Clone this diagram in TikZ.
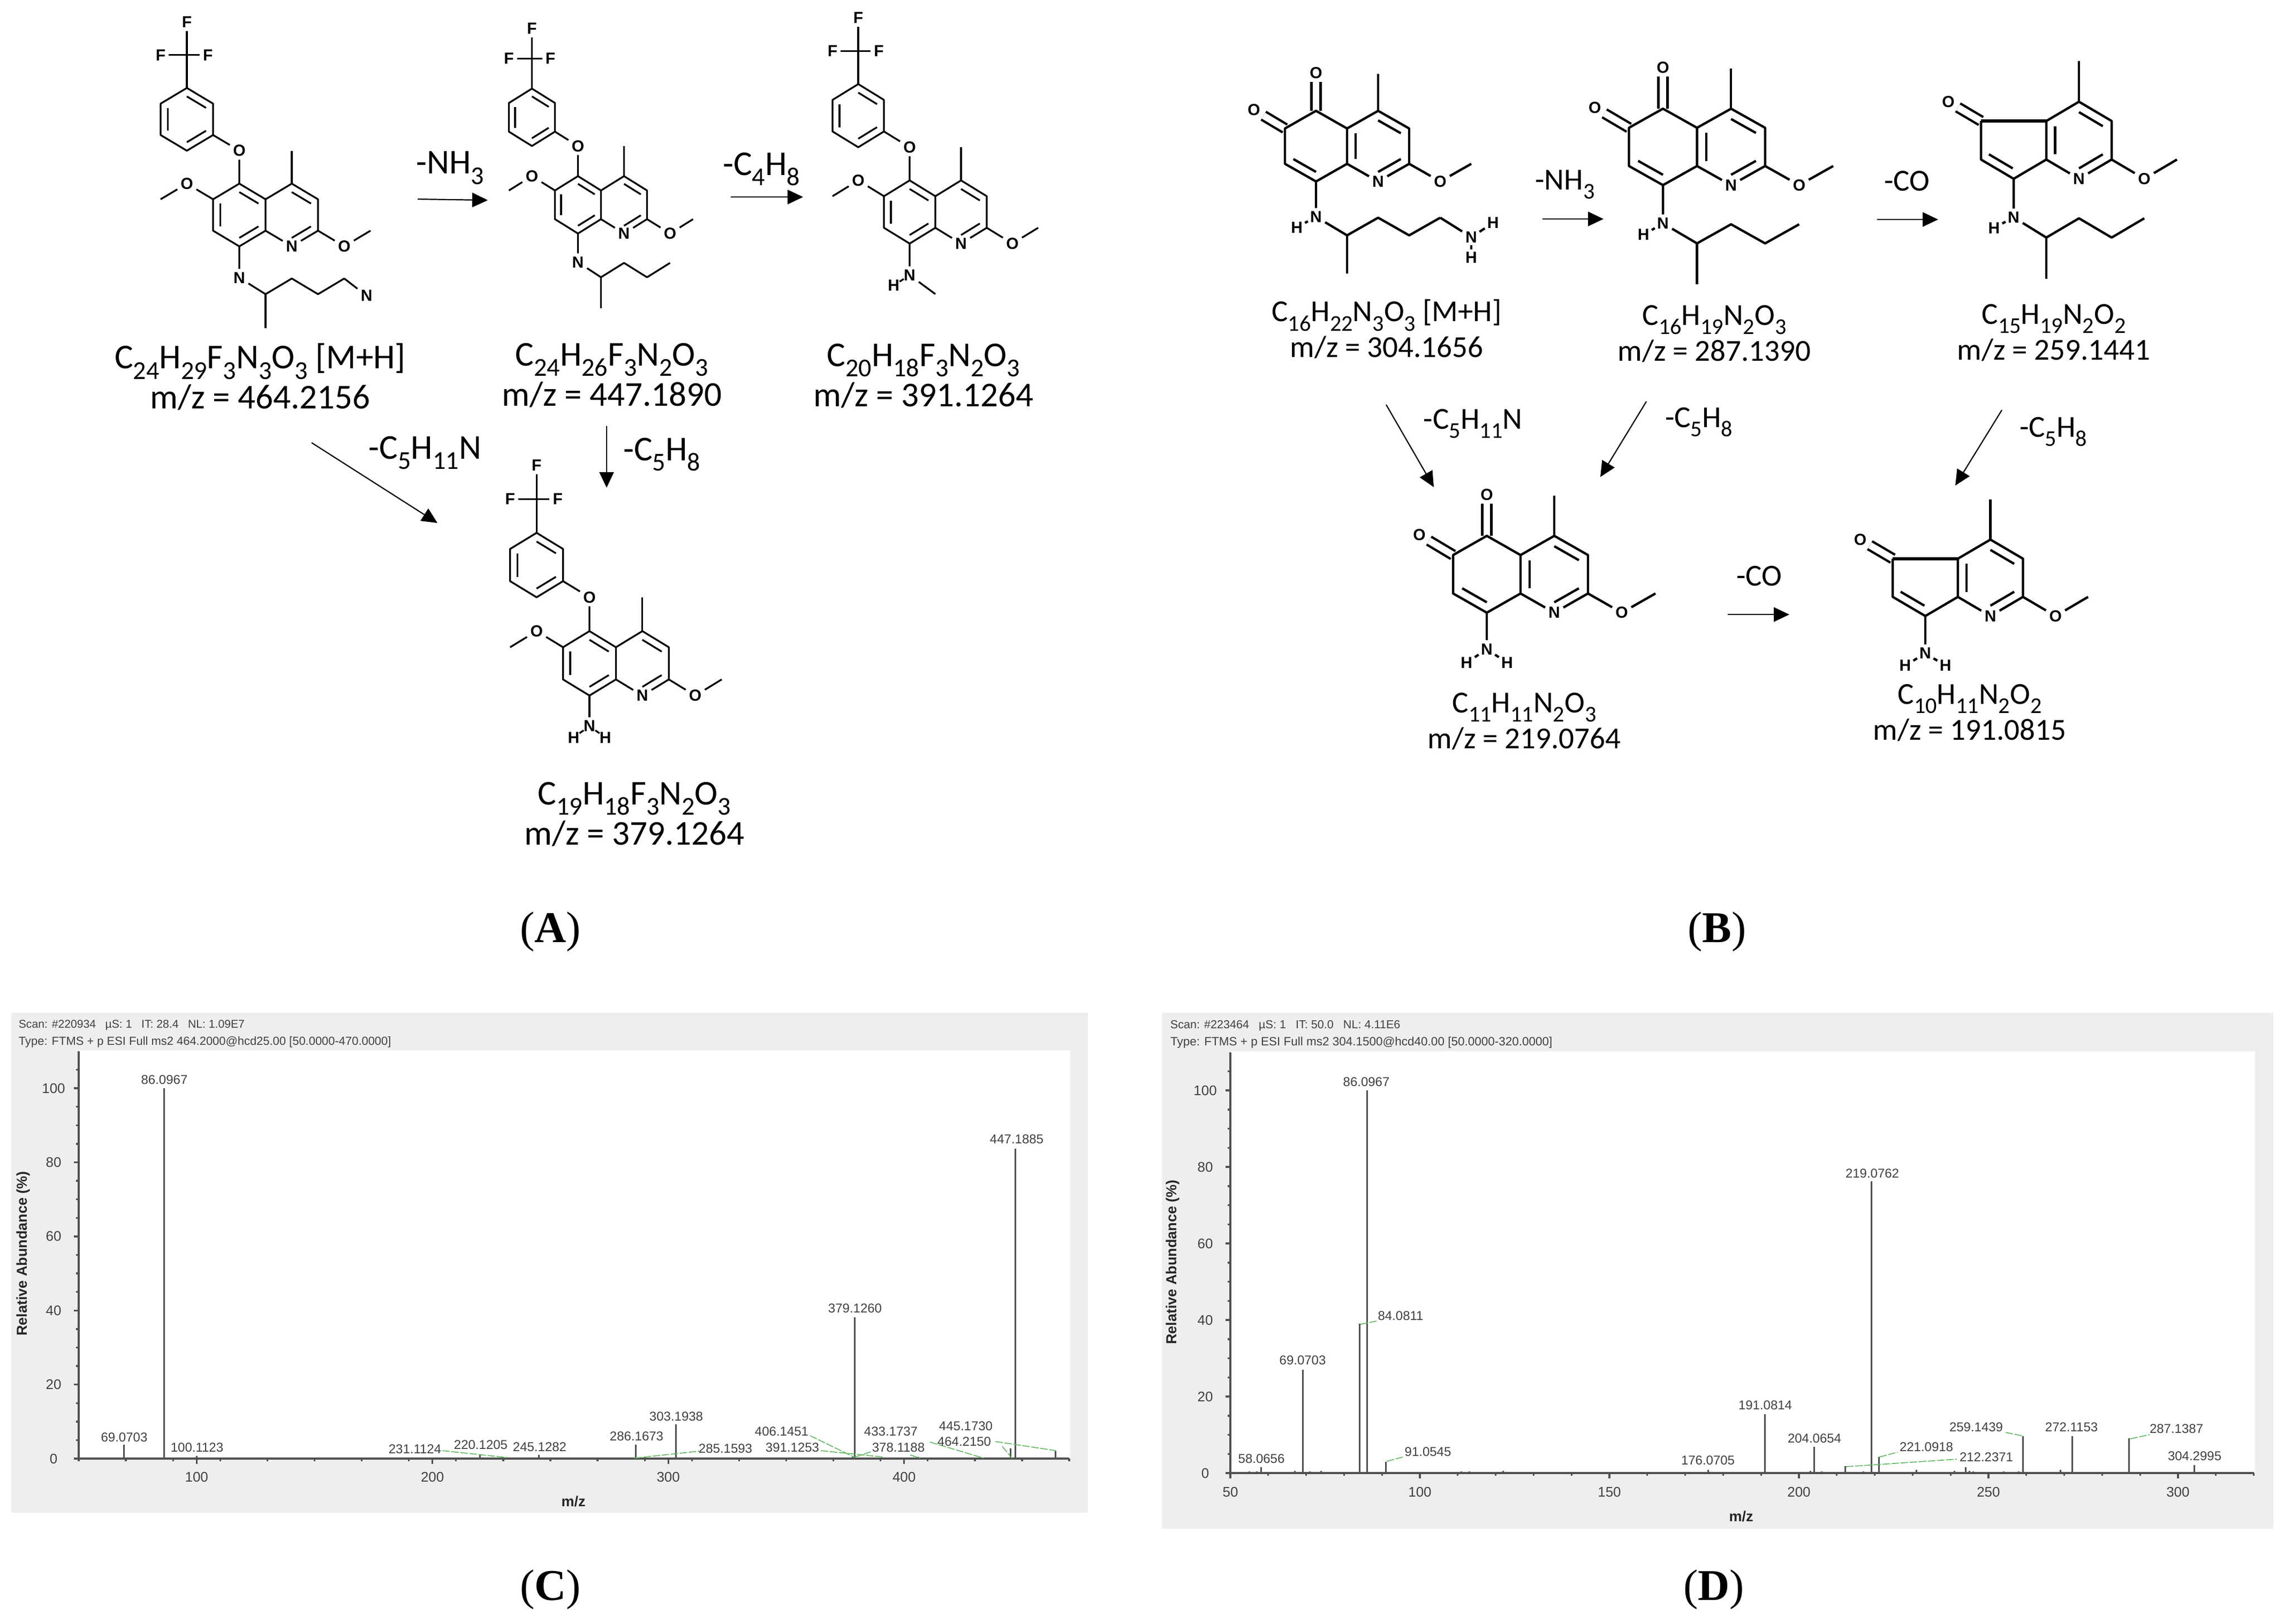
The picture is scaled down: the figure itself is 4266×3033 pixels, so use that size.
\documentclass[tikz,border=0pt]{standalone}
\usepackage{fontspec}
\usepackage{amsmath}
\usepackage{xcolor}
\usetikzlibrary{arrows.meta,calc}
\setmainfont{Carlito}
\newfontfamily\specf{Liberation Sans}
\newfontfamily\capf{Liberation Serif}

\definecolor{panelgray}{HTML}{EEEEEE}
\definecolor{plotline}{HTML}{505050}
\definecolor{plottext}{HTML}{404040}
\definecolor{leadgreen}{HTML}{5CB85C}

\newcommand{\subs}[1]{\raisebox{-.3em}{\scalebox{.74}{#1}}}
\newcommand{\fA}{\fontsize{6.5}{6.4}\selectfont}
\newcommand{\fB}{\fontsize{5.7}{5.5}\selectfont}

\tikzset{
  atom/.style={font=\specf\bfseries\fontsize{3}{3.4}\selectfont,inner sep=.42pt},
  lab/.style={align=center,inner sep=0pt,font=\fA},
  labB/.style={align=center,inner sep=0pt,font=\fB},
  rxn/.style={line width=.22pt,-{Triangle[length=2.9pt,width=2.7pt]}},
  captxt/.style={inner sep=0pt,font=\capf\fontsize{8.2}{9}\selectfont},
  hdr/.style={anchor=west,inner sep=0pt,text=plottext,font=\specf\fontsize{2.25}{2.6}\selectfont},
  peaklab/.style={inner sep=0pt,text=plottext,font=\specf\fontsize{2.4}{2.8}\selectfont},
  ticklab/.style={inner sep=0pt,text=plottext,font=\specf\fontsize{2.6}{3}\selectfont},
  axlab/.style={inner sep=0pt,text=black!85,font=\specf\bfseries\fontsize{2.7}{3}\selectfont},
  axline/.style={line width=.33pt,draw=plotline},
  peakline/.style={line width=.3pt,draw=plotline},
  lead/.style={line width=.16pt,draw=leadgreen,dash pattern=on 1.4pt off .3pt}
}

\newlength{\bondw}
\tikzset{
  bond/.style={line width=\bondw,line join=round},
  nhbond/.style={line width=\bondw,shorten <=-.2pt,shorten >=-.2pt}
}

% second line of a double bond, pulled towards the ring centre
\newcommand{\dbl}[3]{\draw[bond] ($(#1)!.27!(#3)$) -- ($(#2)!.27!(#3)$);}

% pyridine ring with methyl and methoxy, plus the corners of the other ring
\newcommand{\pyrring}{
  \coordinate (c4) at (2,0);
  \coordinate (c3) at (3,1);
  \coordinate (c2) at (3,3);
  \coordinate (c4a) at (1,1);
  \coordinate (c8a) at (1,3);
  \coordinate (c8) at (0,4);
  \coordinate (c7) at (-1,3);
  \coordinate (c6) at (-1,1);
  \coordinate (nc) at (2,4);
  \coordinate (rb) at (2,2);
  \coordinate (me4) at (2,-2.1);
  \coordinate (me2) at (5,3);
  \node[atom] (n1) at (2,4) {N};
  \node[atom] (o2) at (4,4) {O};
  \draw[bond] (c8a) -- (c4a) -- (c4) -- (c3) -- (c2) -- (n1) -- (c8a) -- (c8);
  \draw[bond] (c4) -- (me4);
  \draw[bond] (c2) -- (o2) -- (me2);
  \dbl{c4}{c3}{rb}
  \dbl{c2}{nc}{rb}
}

% aryl ether ring system of panel A
\newcommand{\arylpart}{
  \coordinate (c5) at (0,0);
  \coordinate (ra) at (0,2);
  \coordinate (rp) at (-2,-4.1);
  \coordinate (p1) at (-1,-3.1);
  \coordinate (p2) at (-1,-5.1);
  \coordinate (p3) at (-2,-6.1);
  \coordinate (p4) at (-3,-5.1);
  \coordinate (p5) at (-3,-3.1);
  \coordinate (p6) at (-2,-2.1);
  \coordinate (cf) at (-2,-8.2);
  \coordinate (me6) at (-3,1);
  \node[atom] (o5) at (0,-2.1) {O};
  \node[atom] (o6) at (-2,0) {O};
  \node[atom] (f1) at (-2,-10.3) {F};
  \node[atom] (f2) at (-3,-8.2) {F};
  \node[atom] (f3) at (-1.2,-8.2) {F};
  \draw[bond] (c8) -- (c7) -- (c6) -- (c5) -- (c4a);
  \draw[bond] (c5) -- (o5) -- (p1) -- (p2) -- (p3) -- (p4) -- (p5) -- (p6) -- (p1);
  \draw[bond] (c6) -- (o6) -- (me6);
  \draw[bond] (p3) -- (f1);
  \draw[bond] (f2) -- (f3);
  \dbl{c5}{c4a}{ra}
  \dbl{c6}{c7}{ra}
  \dbl{c8}{c8a}{ra}
  \dbl{p6}{p1}{rp}
  \dbl{p2}{p3}{rp}
  \dbl{p4}{p5}{rp}
}

% quinone ring of panel B
\newcommand{\quinonepart}{
  \coordinate (c5) at (0,0);
  \coordinate (ra) at (0,2);
  \node[atom] (o5) at (0,-2.15) {O};
  \node[atom] (o6) at (-2,-.05) {O};
  \draw[line width=\bondw,double,double distance=1.25pt] (c5) -- (o5);
  \draw[line width=\bondw,double,double distance=1.25pt] (c6) -- (o6);
  \draw[bond] (c8) -- (c7) -- (c6) -- (c5) -- (c4a);
  \dbl{c4a}{c8a}{rb}
  \dbl{c7}{c8}{ra}
}

% five membered ring of panel B
\newcommand{\ketonepart}{
  \coordinate (rf) at (-.1,2);
  \node[atom] (o6) at (-2,0) {O};
  \draw[line width=\bondw,double,double distance=1.25pt] (c6) -- (o6);
  \draw[line width=.58pt] (c6) -- (c4a);
  \draw[bond] (c8) -- (c7) -- (c6);
  \dbl{c4a}{c8a}{rb}
  \dbl{c7}{c8}{rf}
}

% N-H side chain, ends at the third carbon after the branch
\newcommand{\sidechain}{
  \coordinate (ch) at (1,7.05);
  \coordinate (me8) at (1,9.2);
  \coordinate (s1) at (2,6.05);
  \coordinate (s2) at (3,7.05);
  \coordinate (s3) at (4,6.05);
  \node[atom] (n8) at (0,6) {N};
  \draw[bond] (c8) -- (n8) -- (ch) -- (s1) -- (s2) -- (s3);
  \draw[bond] (ch) -- (me8);
}

\begin{document}
\begin{tikzpicture}[x=.1pt,y=-.1pt]
\useasboundingbox (0,0) rectangle (4266,3033);

% ------ panel A
\setlength{\bondw}{.33pt}
\begin{scope}[shift={(447,343)},x=4.9pt,y=-2.93pt,name prefix=aa-]
  \pyrring \arylpart \sidechain
  \node[atom] (nt) at (4.85,7.15) {N};
  \draw[bond] (s3) -- (nt);
\end{scope}
\begin{scope}[shift={(1079.5,329)},x=4.3pt,y=-2.68pt,name prefix=ab-]
  \pyrring \arylpart \sidechain
\end{scope}
\begin{scope}[shift={(1699,337)},x=4.8pt,y=-2.95pt,name prefix=ac-]
  \pyrring \arylpart
  \coordinate (me8) at (1,7.2);
  \node[atom] (n8) at (0,6) {N};
  \node[atom] (h8) at (-.62,6.65) {H};
  \draw[bond] (c8) -- (n8) -- (me8);
  \draw[nhbond] (n8) -- (h8);
\end{scope}
\begin{scope}[shift={(1101,1179)},x=4.94pt,y=-3.01pt,name prefix=ad-]
  \pyrring \arylpart
  \node[atom] (n8) at (0,5.9) {N};
  \node[atom] (h8) at (-.6,6.6) {H};
  \node[atom] (h9) at (.6,6.6) {H};
  \draw[bond] (c8) -- (n8);
  \draw[nhbond] (n8) -- (h8);
  \draw[nhbond] (n8) -- (h9);
\end{scope}

% ------ panel B
\setlength{\bondw}{.44pt}
\begin{scope}[shift={(2458,207)},x=5.8pt,y=-3.3pt,name prefix=ba-]
  \pyrring \quinonepart \sidechain
  \node[atom] (nt) at (5,7.15) {N};
  \node[atom] (h8) at (-.62,6.6) {H};
  \node[atom] (h1) at (5.7,6.35) {H};
  \node[atom] (h2) at (5,8.3) {H};
  \draw[bond] (s3) -- (nt);
  \draw[nhbond] (n8) -- (h8);
  \draw[nhbond] (nt) -- (h1);
  \draw[nhbond] (nt) -- (h2);
\end{scope}
\begin{scope}[shift={(3106,203)},x=6.36pt,y=-3.57pt,name prefix=bb-]
  \pyrring \quinonepart \sidechain
  \node[atom] (h8) at (-.57,6.6) {H};
  \draw[nhbond] (n8) -- (h8);
\end{scope}
\begin{scope}[shift={(3761,190)},x=6.1pt,y=-3.6pt,name prefix=bc-]
  \pyrring \ketonepart \sidechain
  \node[atom] (h8) at (-.6,6.55) {H};
  \draw[nhbond] (n8) -- (h8);
\end{scope}
\begin{scope}[shift={(2777,1001)},x=6.3pt,y=-3.59pt,name prefix=bd-]
  \pyrring \quinonepart
  \node[atom] (n8) at (0,5.9) {N};
  \node[atom] (h8) at (-.6,6.6) {H};
  \node[atom] (h9) at (.6,6.6) {H};
  \draw[bond] (c8) -- (n8);
  \draw[nhbond] (n8) -- (h8);
  \draw[nhbond] (n8) -- (h9);
\end{scope}
\begin{scope}[shift={(3596,1008)},x=6.08pt,y=-3.57pt,name prefix=be-]
  \pyrring \ketonepart
  \node[atom] (n8) at (0,5.95) {N};
  \node[atom] (h8) at (-.62,6.6) {H};
  \node[atom] (h9) at (.62,6.6) {H};
  \draw[bond] (c8) -- (n8);
  \draw[nhbond] (n8) -- (h8);
  \draw[nhbond] (n8) -- (h9);
\end{scope}

% formula labels
\node[lab] (laba) at (486,704) {C\subs{24}H\subs{29}F\subs{3}N\subs{3}O\subs{3} [M+H]\\m/z = 464.2156};
\node[lab] (labb) at (1143,701) {C\subs{24}H\subs{26}F\subs{3}N\subs{2}O\subs{3}\\m/z = 447.1890};
\node[lab] (labc) at (1725,702) {C\subs{20}H\subs{18}F\subs{3}N\subs{2}O\subs{3}\\m/z = 391.1264};
\node[lab] (labd) at (1185,1521) {C\subs{19}H\subs{18}F\subs{3}N\subs{2}O\subs{3}\\m/z = 379.1264};
\node[labB] (labe) at (2590,615) {C\subs{16}H\subs{22}N\subs{3}O\subs{3} [M+H]\\m/z = 304.1656};
\node[labB] (labf) at (3202,624) {C\subs{16}H\subs{19}N\subs{2}O\subs{3}\\m/z = 287.1390};
\node[labB] (labg) at (3836,622) {C\subs{15}H\subs{19}N\subs{2}O\subs{2}\\m/z = 259.1441};
\node[labB] (labh) at (2847,1348) {C\subs{11}H\subs{11}N\subs{2}O\subs{3}\\m/z = 219.0764};
\node[labB] (labi) at (3679,1332) {C\subs{10}H\subs{11}N\subs{2}O\subs{2}\\m/z = 191.0815};

% reaction arrows
\coordinate (ar1s) at (780,372);   \coordinate (ar1e) at (911,374);
\coordinate (ar2s) at (1365,368);  \coordinate (ar2e) at (1500,368);
\coordinate (ar3s) at (582,827);   \coordinate (ar3e) at (817,977);
\coordinate (ar4s) at (1133,796);  \coordinate (ar4e) at (1133,911);
\coordinate (br1s) at (2881,409);  \coordinate (br1e) at (2995,409);
\coordinate (br2s) at (3506,410);  \coordinate (br2e) at (3620,410);
\coordinate (br3s) at (2589,756);  \coordinate (br3e) at (2678,910);
\coordinate (br4s) at (3075,750);  \coordinate (br4e) at (2989,891);
\coordinate (br5s) at (3739,766);  \coordinate (br5e) at (3652,907);
\coordinate (br6s) at (3227,1148); \coordinate (br6e) at (3342,1148);
\foreach \nm in {ar1,ar2,ar3,ar4,br1,br2,br3,br4,br5,br6}
  \draw[rxn] (\nm s) -- (\nm e);

\node[lab] (tr1) at (841,314) {-NH\subs{3}};
\node[lab] (tr2) at (1422,316) {-C\subs{4}H\subs{8}};
\node[lab] (tr3) at (794,846) {-C\subs{5}H\subs{11}N};
\node[lab] (tr4) at (1236,849) {-C\subs{5}H\subs{8}};
\node[labB] (tr5) at (2923,345) {-NH\subs{3}};
\node[labB] (tr6) at (3562,338) {-CO};
\node[labB] (tr7) at (2751,792) {-C\subs{5}H\subs{11}N};
\node[labB] (tr8) at (3173,789) {-C\subs{5}H\subs{8}};
\node[labB] (tr9) at (3835,807) {-C\subs{5}H\subs{8}};
\node[labB] (tr10) at (3286,1076) {-CO};

% captions
\node[captxt] (capa) at (1028,1741) {(\textbf{A})};
\node[captxt] (capb) at (3207,1741) {(\textbf{B})};
\node[captxt] (capc) at (1028,2970) {(\textbf{C})};
\node[captxt] (capd) at (3201,2970) {(\textbf{D})};

% ------ spectrum C
\fill[panelgray] (21,1892) rectangle (2032,2826);
\fill[white] (147,1962) rectangle (1999,2725);
\node[hdr,scale=.94] (hca) at (33,1915) {Scan: \#220934\ \ \ µS: 1\ \ \ IT: 28.4\ \ \ NL: 1.09E7};
\node[hdr,scale=.975] (hcb) at (33,1947) {Type: FTMS + p ESI Full ms2 464.2000@hcd25.00 [50.0000-470.0000]};
\begin{scope}[shift={(147,2725)},x=.4405pt,y=.692pt]
  \draw[axline] (0,110) -- (0,0) -- (420,0);
  \foreach \v in {0,5,...,105} \draw[axline] (0,\v) -- ++(-.5pt,0);
  \foreach \v in {0,20,...,100} {
    \draw[axline] (0,\v) -- ++(-.9pt,0);
    \node[ticklab] (cy\v) at ([xshift=-4.7pt]0,\v) {\v};
  }
  \foreach \m in {50,70,...,470} \draw[axline] (\m-50,0) -- ++(0,-.5pt);
  \foreach \m in {100,200,300,400} {
    \draw[axline] (\m-50,0) -- ++(0,-.95pt);
    \node[ticklab] (cx\m) at ([yshift=-3.4pt]\m-50,0) {\m};
  }
  \foreach \m/\h in {69.07/3.7,86.1/100,100.1/.8,220.1/1,245.1/1,286.2/3.7,285.2/.3,303.2/9.2,378.1/.5,379.1/38.2,391.1/.3,406.1/.5,433.2/.3,445.2/2.8,447.2/83.7,464.2/2.1}
    \draw[peakline] (\m-50,0) -- (\m-50,\h);
\end{scope}
\foreach \xa/\ya/\xb/\yb in {826/2710/948/2723,1185/2724/1306/2711,1513/2682/1597/2723,1533/2710/1650/2722,1597/2722/1627/2712,1737/2694/1837/2724,1700/2718/1718/2724,1859/2693/1972/2710,1872/2702/1890/2724}
  \draw[lead] (\xa,\ya) -- (\xb,\yb);
\foreach \lbl/\xc/\yc in {86.0967/307/2017,447.1885/1899/2128,379.1260/1597/2444,303.1938/1263/2646,286.1673/1189/2683,406.1451/1460/2674,433.1737/1664/2674,445.1730/1804/2664,464.2150/1801/2693,391.1253/1480/2704,378.1188/1678/2704,285.1593/1355/2706,245.1282/1008/2703,220.1205/898/2699,231.1124/775/2707,100.1123/368/2704,69.0703/232/2685}
  \node[peaklab] at (\xc,\yc) {\lbl};
\node[axlab,rotate=90] (cyl) at (44,2342) {Relative Abundance (\%)};
\node[axlab] (cxl) at (1071,2805) {m/z};

% ------ spectrum D
\fill[panelgray] (2170,1892) rectangle (4246,2856);
\fill[white] (2298,1964) rectangle (4212,2752);
\node[hdr,scale=.96] (hda) at (2184,1916) {Scan: \#223464\ \ \ µS: 1\ \ \ IT: 50.0\ \ \ NL: 4.11E6};
\node[hdr] (hdb) at (2184,1948) {Type: FTMS + p ESI Full ms2 304.1500@hcd40.00 [50.0000-320.0000]};
\begin{scope}[shift={(2298,2752)},x=.708pt,y=.715pt]
  \draw[axline] (0,110) -- (0,0) -- (270,0);
  \foreach \v in {0,5,...,105} \draw[axline] (0,\v) -- ++(-.5pt,0);
  \foreach \v in {0,20,...,100} {
    \draw[axline] (0,\v) -- ++(-.9pt,0);
    \node[ticklab] (dy\v) at ([xshift=-4.7pt]0,\v) {\v};
  }
  \foreach \m in {50,60,...,320} \draw[axline] (\m-50,0) -- ++(0,-.5pt);
  \foreach \m in {50,100,150,200,250,300} {
    \draw[axline] (\m-50,0) -- ++(0,-.95pt);
    \node[ticklab] (dx\m) at ([yshift=-3.5pt]\m-50,0) {\m};
  }
  \foreach \m/\h in {55/.4,57/.4,58.07/1.5,67/.6,69.07/27,71/.4,74/.6,84.08/39,86.1/100,91.05/3,111/.4,113/.4,122/.6,176.07/.9,191.08/15.4,203/.6,204.07/6.9,206/.4,212.24/1.8,217/.4,219.08/76.3,221.09/4.2,231/.8,241/.6,244/1.6,245/.6,246/.4,254/.4,258/.4,259.14/9.6,269/.8,272.12/9.7,287.14/9.1,304.3/2.1}
    \draw[peakline] (\m-50,0) -- (\m-50,\h);
\end{scope}
\foreach \xa/\ya/\xb/\yb in {2541/2474/2571/2468,2590/2730/2620/2722,3510/2722/3544/2713,3448/2740/3655/2726,3746/2676/3780/2683,3979/2688/4015/2680}
  \draw[lead] (\xa,\ya) -- (\xb,\yb);
\foreach \lbl/\xc/\yc in {86.0967/2552/2021,219.0762/3497/2192,84.0811/2616/2458,69.0703/2433/2541,191.0814/3297/2625,204.0654/3389/2687,259.1439/3691/2666,272.1153/3869/2666,287.1387/4065/2669,221.0918/3598/2703,212.2371/3710/2722,304.2995/4099/2720,176.0705/3190/2728,91.0545/2667/2712,58.0656/2356/2725}
  \node[peaklab] at (\xc,\yc) {\lbl};
\node[axlab,rotate=90] (dyl) at (2190,2358) {Relative Abundance (\%)};
\node[axlab] (dxl) at (3252,2833) {m/z};
\end{tikzpicture}
\end{document}
